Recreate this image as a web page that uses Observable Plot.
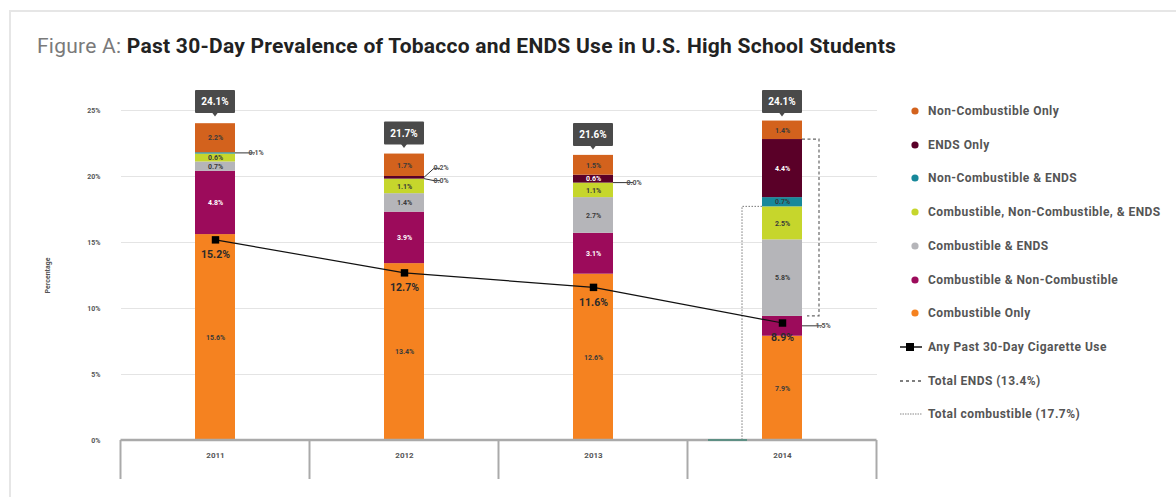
<!DOCTYPE html>
<html><head><meta charset="utf-8">
<script src="https://cdn.jsdelivr.net/npm/d3@7"></script>
<script src="https://cdn.jsdelivr.net/npm/@observablehq/plot@0.6"></script>
<style>
body{margin:0;background:#fff;overflow:hidden;font-family:Roboto,"Open Sans",sans-serif}
#wrap{position:relative;width:1176px;height:497px;overflow:hidden}
#frame{position:absolute;left:9px;top:10px;width:1200px;height:520px;border:2px solid #e6e6e6}
#title{position:absolute;left:37px;top:34px;font-size:21px;white-space:nowrap;color:#222;letter-spacing:0.25px}
#title .fig{color:#7a7a7a;font-weight:400}
#title b{font-weight:700}
#chart{position:absolute;left:0;top:0}
#legend{position:absolute;left:898px;top:0;width:278px;height:497px}
.li{position:absolute;left:0;height:16px;white-space:nowrap;font-size:12px;font-weight:700;color:#555;letter-spacing:0.45px;display:flex;align-items:center}
.li svg{margin-right:6px}
</style></head>
<body>
<div id="wrap">
  <div id="frame"></div>
  <div id="title"><span class="fig">Figure A: </span><b>Past 30-Day Prevalence of Tobacco and ENDS Use in U.S. High School Students</b></div>
  <div id="chart"></div>
  <div id="legend"></div>
</div>
<script>
const years = ["2011", "2012", "2013", "2014"];
const categories = [
  "Combustible Only",
  "Combustible & Non-Combustible",
  "Combustible & ENDS",
  "Combustible, Non-Combustible, & ENDS",
  "Non-Combustible & ENDS",
  "ENDS Only",
  "Non-Combustible Only"
];
const categoryColors = ["#f58220", "#9c0b5b", "#b5b5b9", "#c6d62c", "#17889a", "#5a0028", "#d3621d"];
const combustibleOnly = [15.6, 13.4, 12.6, 7.9];
const combustibleNonCombustible = [4.8, 3.9, 3.1, 1.5];
const combustibleENDS = [0.7, 1.4, 2.7, 5.8];
const combustibleNonCombustibleENDS = [0.6, 1.1, 1.1, 2.5];
const nonCombustibleENDS = [0.1, 0.0, 0.0, 0.7];
const endsOnly = [0.0, 0.2, 0.6, 4.4];
const nonCombustibleOnly = [2.2, 1.7, 1.5, 1.4];
const totals = [24.1, 21.7, 21.6, 24.1];
const cigaretteUse = [15.2, 12.7, 11.6, 8.9];
const yTicks = [0, 5, 10, 15, 20, 25];
const totalENDS2014 = 13.4;
const totalCombustible2014 = 17.7;
const callouts = [
  {year: "2011", category: "Non-Combustible & ENDS"},
  {year: "2012", category: "ENDS Only"},
  {year: "2012", category: "Non-Combustible & ENDS"},
  {year: "2013", category: "Non-Combustible & ENDS"},
  {year: "2014", category: "Combustible & Non-Combustible"}
];
const legendExtra = ["Any Past 30-Day Cigarette Use", "Total ENDS (13.4%)", "Total combustible (17.7%)"];

const series = [combustibleOnly, combustibleNonCombustible, combustibleENDS, combustibleNonCombustibleENDS, nonCombustibleENDS, endsOnly, nonCombustibleOnly];
const rows = [];
years.forEach((year, i) => {
  let cum = 0;
  categories.forEach((category, j) => {
    const value = series[j][i];
    rows.push({year, category, value, y1: cum, y2: cum + value, mid: cum + value / 2});
    cum += value;
  });
});
const isCallout = d => callouts.some(c => c.year === d.year && c.category === d.category);
const inLabels = rows.filter(d => d.value >= 0.5 && !isCallout(d));
const whiteCats = new Set(["Combustible & Non-Combustible", "ENDS Only"]);
const fmt = v => v.toFixed(1) + "%";
const cigRows = years.map((year, i) => ({year, value: cigaretteUse[i]}));
const totalRows = years.map((year, i) => ({year, value: totals[i]}));
const calloutRows = callouts.map(c => rows.find(r => r.year === c.year && r.category === c.category));

function annotations(index, scales, values, dimensions) {
  const {x, y} = scales;
  const bw = x.bandwidth();
  const step = x.step();
  const g = d3.create("svg:g");
  const y0 = y(0);
  // category axis frame
  const bounds = years.map(yr => x(yr) - (step - bw) / 2);
  bounds.push(bounds[bounds.length - 1] + step);
  g.append("line").attr("x1", bounds[0]).attr("x2", bounds[bounds.length - 1]).attr("y1", y0).attr("y2", y0)
    .attr("stroke", "#aaa").attr("stroke-width", 2.5);
  for (const b of bounds) {
    g.append("line").attr("x1", b).attr("x2", b).attr("y1", y0).attr("y2", y0 + 39).attr("stroke", "#aaa").attr("stroke-width", 2);
  }
  // 2014 brackets
  const last = years[years.length - 1];
  const xl = x(last), xr = xl + bw;
  const endsBottom = rows.find(r => r.year === last && r.category === "Combustible & ENDS").y1;
  g.append("path")
    .attr("d", `M${xr},${y(endsBottom + totalENDS2014)}H${xr + 17}V${y(endsBottom)}H${xr + 5}`)
    .attr("fill", "none").attr("stroke", "#666").attr("stroke-width", 1.2).attr("stroke-dasharray", "3,2.5");
  g.append("path")
    .attr("d", `M${xl},${y(totalCombustible2014)}H${xl - 20}V${y0}`)
    .attr("fill", "none").attr("stroke", "#777").attr("stroke-width", 1).attr("stroke-dasharray", "1.5,1.5");
  g.append("line").attr("x1", xl - 54).attr("x2", xl - 15).attr("y1", y0).attr("y2", y0).attr("stroke", "#5e8f84").attr("stroke-width", 2);
  // total boxes
  totalRows.forEach(d => {
    const cx = x(d.year) + bw / 2, top = y(d.value);
    g.append("rect").attr("x", x(d.year)).attr("y", top - 32).attr("width", bw).attr("height", 23).attr("fill", "#4a4a4a").attr("rx", 1);
    g.append("path").attr("d", `M${cx - 3},${top - 9.5}L${cx},${top - 5.5}L${cx + 3},${top - 9.5}Z`).attr("fill", "#4a4a4a");
    g.append("text").attr("x", cx).attr("y", top - 20.5).attr("text-anchor", "middle").attr("dominant-baseline", "central")
      .attr("fill", "white").attr("font-size", 10).attr("font-weight", 700).text(fmt(d.value));
  });
  // callouts
  calloutRows.forEach((d, k) => {
    const sx = x(d.year) + bw, sy = y(d.mid);
    let ey = sy;
    if (d.year === "2012" && d.category === "ENDS Only") ey = sy - 9;
    if (d.year === "2012" && d.category === "Non-Combustible & ENDS") ey = sy + 2;
    const len = d.year === "2012" ? 16 : 20;
    g.append("path").attr("d", `M${sx},${sy}L${sx + len - 6},${ey}H${sx + len}`).attr("fill", "none").attr("stroke", "#333").attr("stroke-width", 1);
    g.append("text").attr("x", sx + len + 1).attr("y", ey).attr("dominant-baseline", "central").attr("font-size", 7)
      .attr("font-weight", 700).attr("fill", "#555").text(fmt(d.value));
  });
  return g.node();
}

const chart = Plot.plot({
  width: 1176,
  height: 497,
  marginLeft: 121,
  marginRight: 299,
  marginTop: 110,
  marginBottom: 57,
  style: {background: "transparent", overflow: "visible", fontFamily: "Roboto, sans-serif"},
  x: {domain: years, paddingInner: 0.788, paddingOuter: 0.394},
  y: {domain: [0, 25]},
  color: {domain: categories, range: categoryColors},
  marks: [
    Plot.gridY(yTicks, {stroke: "#e4e4e4", strokeOpacity: 1, strokeWidth: 1.2}),
    Plot.axisY(yTicks, {tickFormat: d => d + "%", tickSize: 0, tickPadding: 21, fontSize: 7, fontWeight: "bold", fill: "#555",
      label: "Percentage", labelAnchor: "center", labelOffset: 76, labelArrow: "none"}),
    Plot.axisX({tickSize: 0, tickPadding: 12, fontSize: 8, fontWeight: "bold", fill: "#555", label: null}),
    Plot.barY(rows, {x: "year", y1: "y1", y2: "y2", fill: "category"}),
    Plot.text(inLabels.filter(d => whiteCats.has(d.category)), {x: "year", y: "mid", text: d => fmt(d.value), fill: "white", fontSize: 7, fontWeight: "bold"}),
    Plot.text(inLabels.filter(d => !whiteCats.has(d.category)), {x: "year", y: "mid", text: d => fmt(d.value), fill: "#3a3a3a", fontSize: 7, fontWeight: "bold"}),
    annotations,
    Plot.line(cigRows, {x: "year", y: "value", stroke: "#111", strokeWidth: 1.2}),
    Plot.dot(cigRows, {x: "year", y: "value", symbol: "square", r: 4.2, fill: "#000"}),
    Plot.text(cigRows, {x: "year", y: "value", text: d => fmt(d.value), dy: 15, fontSize: 10.5, fontWeight: "bold", fill: "#2a2a2a"})
  ]
});
document.getElementById("chart").appendChild(chart);

// legend
const legend = document.getElementById("legend");
const legendCats = categories.slice().reverse();
const legendY = [111, 145, 178, 212, 246, 280, 313, 347, 381, 414];
legendCats.forEach((cat, i) => {
  const el = document.createElement("div");
  el.className = "li";
  el.style.top = (legendY[i] - 8) + "px";
  el.innerHTML = `<svg width="24" height="16"><circle cx="17" cy="8" r="3.6" fill="${categoryColors[categories.indexOf(cat)]}"/></svg>`;
  el.appendChild(document.createTextNode(cat));
  legend.appendChild(el);
});
const extraSymbols = [
  `<svg width="24" height="16"><line x1="2" x2="24" y1="8" y2="8" stroke="#111" stroke-width="1.5"/><rect x="8" y="4" width="8" height="8" fill="#000"/></svg>`,
  `<svg width="24" height="16"><line x1="2" x2="24" y1="8" y2="8" stroke="#555" stroke-width="1.5" stroke-dasharray="3,3"/></svg>`,
  `<svg width="24" height="16"><line x1="2" x2="24" y1="8" y2="8" stroke="#888" stroke-width="1" stroke-dasharray="1.5,1"/></svg>`
];
legendExtra.forEach((label, k) => {
  const el = document.createElement("div");
  el.className = "li";
  el.style.top = (legendY[legendCats.length + k] - 8) + "px";
  el.innerHTML = extraSymbols[k];
  el.appendChild(document.createTextNode(label));
  legend.appendChild(el);
});
</script>
</body></html>
